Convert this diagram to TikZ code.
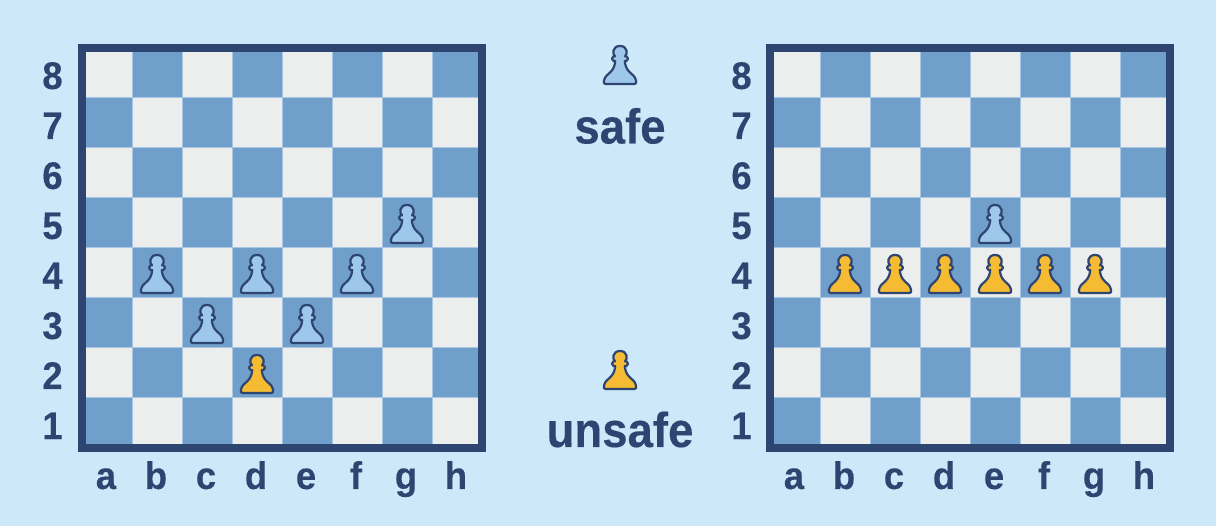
\documentclass[tikz,border=0pt]{standalone}
\usepackage{fontspec}
\setmainfont{Liberation Sans}
\newfontfamily\labfont[FakeBold=0.25,FakeStretch=0.95,BoldFont={Liberation Sans Bold}]{Liberation Sans Bold}
\newfontfamily\wordfont[FakeBold=0.25,FakeStretch=0.93,BoldFont={Liberation Sans Bold}]{Liberation Sans Bold}
\definecolor{bgc}{HTML}{CDE9F9}
\definecolor{navy}{HTML}{2F4571}
\definecolor{darksq}{HTML}{719FCB}
\definecolor{lightsq}{HTML}{ECEEEE}
\definecolor{safec}{HTML}{9DC8EC}
\definecolor{unsafec}{HTML}{F4BB33}
\definecolor{gridc}{HTML}{A9C7E2}
\tikzset{
  lab/.style={text=navy,font=\labfont\fontsize{38.5}{38.5}\selectfont,inner sep=0pt,anchor=base},
  bigword/.style={text=navy,font=\wordfont\fontsize{49}{49}\selectfont,inner sep=0pt,anchor=base},
  pics/pawn/.style={code={
    \draw[fill=#1,draw=navy,line width=2.2pt,line join=round,yscale=-1]
      (-14.5,1) .. controls (-16.2,1) and (-16.5,2.5) .. (-16,4.5)
      .. controls (-15,9) and (-12,10.5) .. (-10,12.5)
      .. controls (-6.5,15.5) and (-5,20) .. (-4.8,24)
      -- (-6.5,24) .. controls (-8.6,24.4) and (-8.6,28.2) .. (-6.5,28.6)
      -- (-5,28.6) .. controls (-8,31) and (-7.5,39) .. (0,39)
      .. controls (7.5,39) and (8,31) .. (5,28.6)
      -- (6.5,28.6) .. controls (8.6,28.2) and (8.6,24.4) .. (6.5,24)
      -- (4.8,24)
      .. controls (5,20) and (6.5,15.5) .. (10,12.5)
      .. controls (12,10.5) and (15,9) .. (16,4.5)
      .. controls (16.5,2.5) and (16.2,1) .. (14.5,1) -- cycle;
  }}
}
\newcommand{\boardat}[3]{% x-left, name prefix, rank label offset
  \begin{scope}[shift={(#1,48)}]
    \foreach \c in {0,...,7}{\foreach \r in {0,...,7}{
      \pgfmathtruncatemacro{\parit}{mod(\c+\r,2)}
      \ifnum\parit=0 \def\sq{lightsq}\else\def\sq{darksq}\fi
      \fill[\sq] (50*\c,50*\r) rectangle ++(50,50);
      \draw[gridc,line width=1pt] (50*\c,50*\r) rectangle ++(50,50);
    }}
    \draw[navy,line width=8pt] (0,0) rectangle (400,400);
    \foreach \l [count=\i from 0] in {a,b,c,d,e,f,g,h}{
      \node[lab] (#2file\l) at ({24+50*\i},441) {\l};
    }
    \foreach \n [count=\i from 0] in {8,7,6,5,4,3,2,1}{
      \node[lab] (#2rank\n) at (#3,{41+50*\i}) {\n};
    }
  \end{scope}
}
% pawn on file index, rank number; bottom 46 below square top
\newcommand{\pawnon}[4]{\pic at ({#1+25+50*#2},{48+50*(8-#3)+46}) {pawn={#4}};}
\begin{document}
\begin{tikzpicture}[x=1pt,y=-1pt]
\useasboundingbox (0,0) rectangle (1216,526);
\fill[bgc] (0,0) rectangle (1216,526);
\boardat{82}{L}{-29.5}
\boardat{770}{R}{-28.5}
\foreach \c/\r in {6/5,1/4,3/4,5/4,2/3,4/3}{\pawnon{82}{\c}{\r}{safec}}
\pawnon{82}{3}{2}{unsafec}
\pawnon{770}{4}{5}{safec}
\foreach \c in {1,...,6}{\pawnon{770}{\c}{4}{unsafec}}
\pic at (620,85) {pawn={safec}};
\pic at (620,390) {pawn={unsafec}};
\node[bigword] (safe) at (620,143.5) {safe};
\node[bigword] (unsafe) at (620,447) {unsafe};
\end{tikzpicture}
\end{document}
